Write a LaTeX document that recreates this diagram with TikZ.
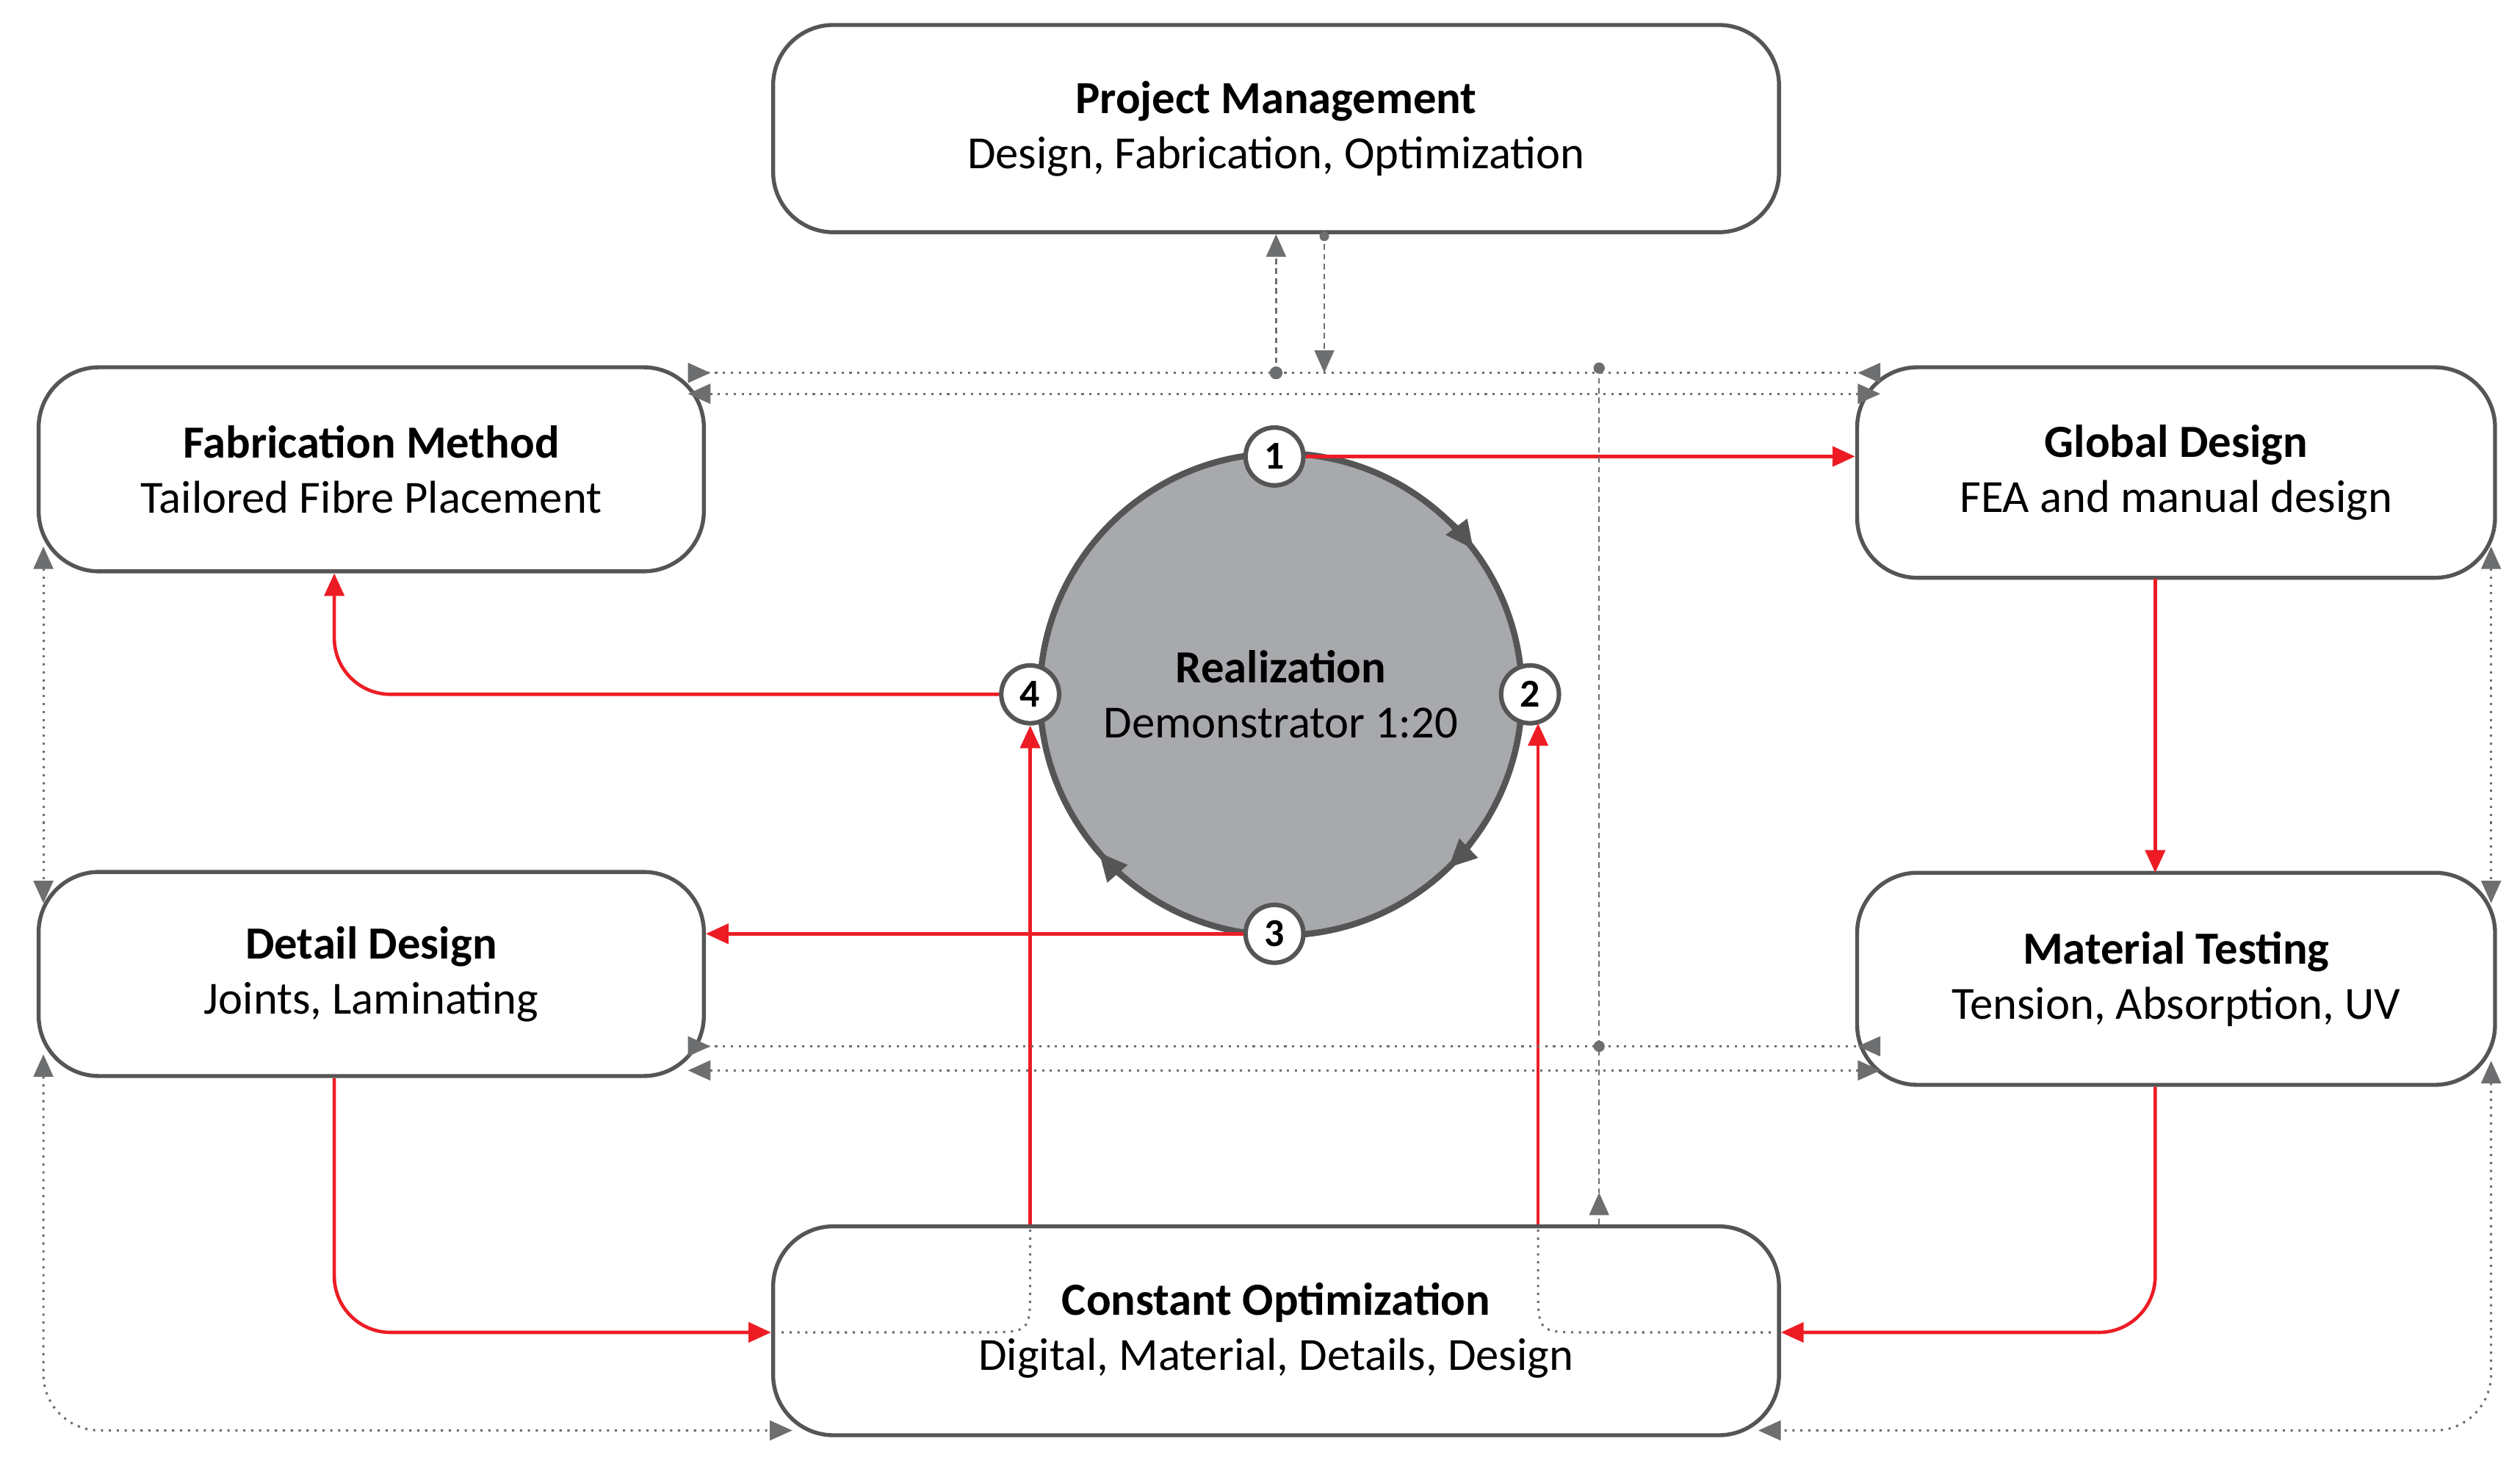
\documentclass[tikz,border=0pt]{standalone}
\usepackage{fontspec}
\setmainfont{Carlito}
\usetikzlibrary{arrows.meta,calc}
\definecolor{boxc}{HTML}{555555}
\definecolor{redc}{HTML}{ED1C24}
\definecolor{grayc}{HTML}{6D6E70}
\definecolor{circfill}{HTML}{A7A9AC}
\tikzset{gt/.tip={Triangle[length=8pt,width=7pt]},gtr/.tip={Triangle[reversed,length=8pt,width=7pt]}}
\begin{document}
\begin{tikzpicture}[x=0.02cm,y=-0.02cm,
  box/.style={draw=boxc,line width=1.4pt,rounded corners=0.75cm,fill=white,align=center,inner sep=0pt,font=\fontsize{16.3}{19.5}\selectfont},
  num/.style={circle,draw=boxc,line width=1.6pt,fill=white,minimum size=0.72cm,inner sep=0pt,font=\bfseries\fontsize{14}{14}\selectfont},
  red/.style={draw=redc,line width=1.2pt,-{Triangle[length=8pt,width=7pt]}},
  dl/.style={draw=grayc,dotted,line width=0.8pt},
  dsh/.style={draw=grayc,dash pattern=on 2pt off 1.5pt,line width=0.6pt},
  carr/.style={draw=boxc,line width=2pt,-{Triangle[length=10pt,width=9pt]}}]
\useasboundingbox (0,0) rectangle (1568,907);
% boxes
\node[box,minimum width=12.52cm,minimum height=2.58cm] (pm) at (794,80) {\textbf{Project Management}\\Design, Fabrication, Optimization};
\node[box,minimum width=8.28cm,minimum height=2.54cm] (fm) at (231,292) {\textbf{Fabrication Method}\\Tailored Fibre Placement};
\node[box,minimum width=7.94cm,minimum height=2.62cm] (gd) at (1354,294) {\textbf{Global Design}\\FEA and manual design};
\node[box,minimum width=8.28cm,minimum height=2.54cm] (dd) at (231,606) {\textbf{Detail Design}\\Joints, Laminating};
\node[box,minimum width=7.94cm,minimum height=2.64cm] (mt) at (1354,609) {\textbf{Material Testing}\\Tension, Absorption, UV};
\node[box,minimum width=12.52cm,minimum height=2.6cm] (co) at (794,828) {\textbf{Constant Optimization}\\Digital, Material, Details, Design};
% circle
\node[circle,draw=boxc,line width=2.2pt,fill=circfill,minimum size=6cm,align=center,inner sep=0pt,font=\fontsize{16.3}{19.5}\selectfont] (rc) at (797,432) {\textbf{Realization}\\Demonstrator 1:20};
\draw[carr] (rc.center) ++(-52:150) arc (-52:-37:150);
\draw[carr] (rc.center) ++(33:150) arc (33:46:150);
\draw[carr] (rc.center) ++(126:150) arc (126:139:150);
\node[num] (n1) at (793,284) {1};
\node[num] (n2) at (952,432) {2};
\node[num] (n3) at (793,581) {3};
\node[num] (n4) at (641,432) {4};
% dotted lines inside CO
\draw[dl] (641,765) -- (641,800) .. controls (641,829) .. (612,829) -- (486,829);
\draw[dl] (957,765) -- (957,800) .. controls (957,829) .. (986,829) -- (1103,829);
% red arrows
\draw[red] (n1.east) -- (gd.west |- n1.east);
\draw[red] (1341,360) -- (1341,543);
\draw[red] (n3.west) -- (dd.east |- n3.west);
\draw[red,rounded corners=0.7cm] (n4.west) -- (208,432) -- (fm.south -| 208,0);
\draw[red,rounded corners=0.7cm] (dd.south -| 208,0) -- (208,829) -- (co.west |- 0,829);
\draw[red,rounded corners=0.7cm] (mt.south -| 1341,0) -- (1341,829) -- (co.east |- 0,829);
\draw[red] (co.north -| n4) -- (n4.south);
\draw[red] (co.north -| 957,0) -- (957,450);
% gray dotted connections
\coordinate (d1) at (794,232);
\coordinate (d2) at (995,229);
\coordinate (d3) at (995,651);
\coordinate (d4) at (995,742);
\begin{scope}[fill=grayc]
\draw[dsh,-{gt}] (d1) -- (pm.south -| d1);
\draw[dsh,-{gt}] (pm.south -| 824,0) -- (824,232);
\fill[grayc] (d1) circle (4);
\fill[grayc] (824,147) circle (3);
\draw[dl,{gtr}-{gtr}] (428,232) -- (1170,232);
\draw[dl,{gt}-{gt}] (428,245) -- (1170,245);
\draw[dl,{gtr}-{gtr}] (428,651) -- (1170,651);
\draw[dl,{gt}-{gt}] (428,666) -- (1170,666);
\draw[dsh] (d2) -- (d4);
\draw[dsh,-{gt}] (co.north -| d2) -- (d4);
\fill[grayc] (d2) circle (3.5);
\fill[grayc] (d3) circle (3.5);
\draw[dl,{gt}-{gt}] (27,340) -- (27,562);
\draw[dl,{gt}-{gt}] (1550,340) -- (1550,562);
\draw[dl,rounded corners=0.7cm,{gt}-{gt}] (27,656) -- (27,890) -- (493,890);
\draw[dl,rounded corners=0.7cm,{gt}-{gt}] (1550,660) -- (1550,890) -- (1094,890);
\end{scope}
\end{tikzpicture}
\end{document}
